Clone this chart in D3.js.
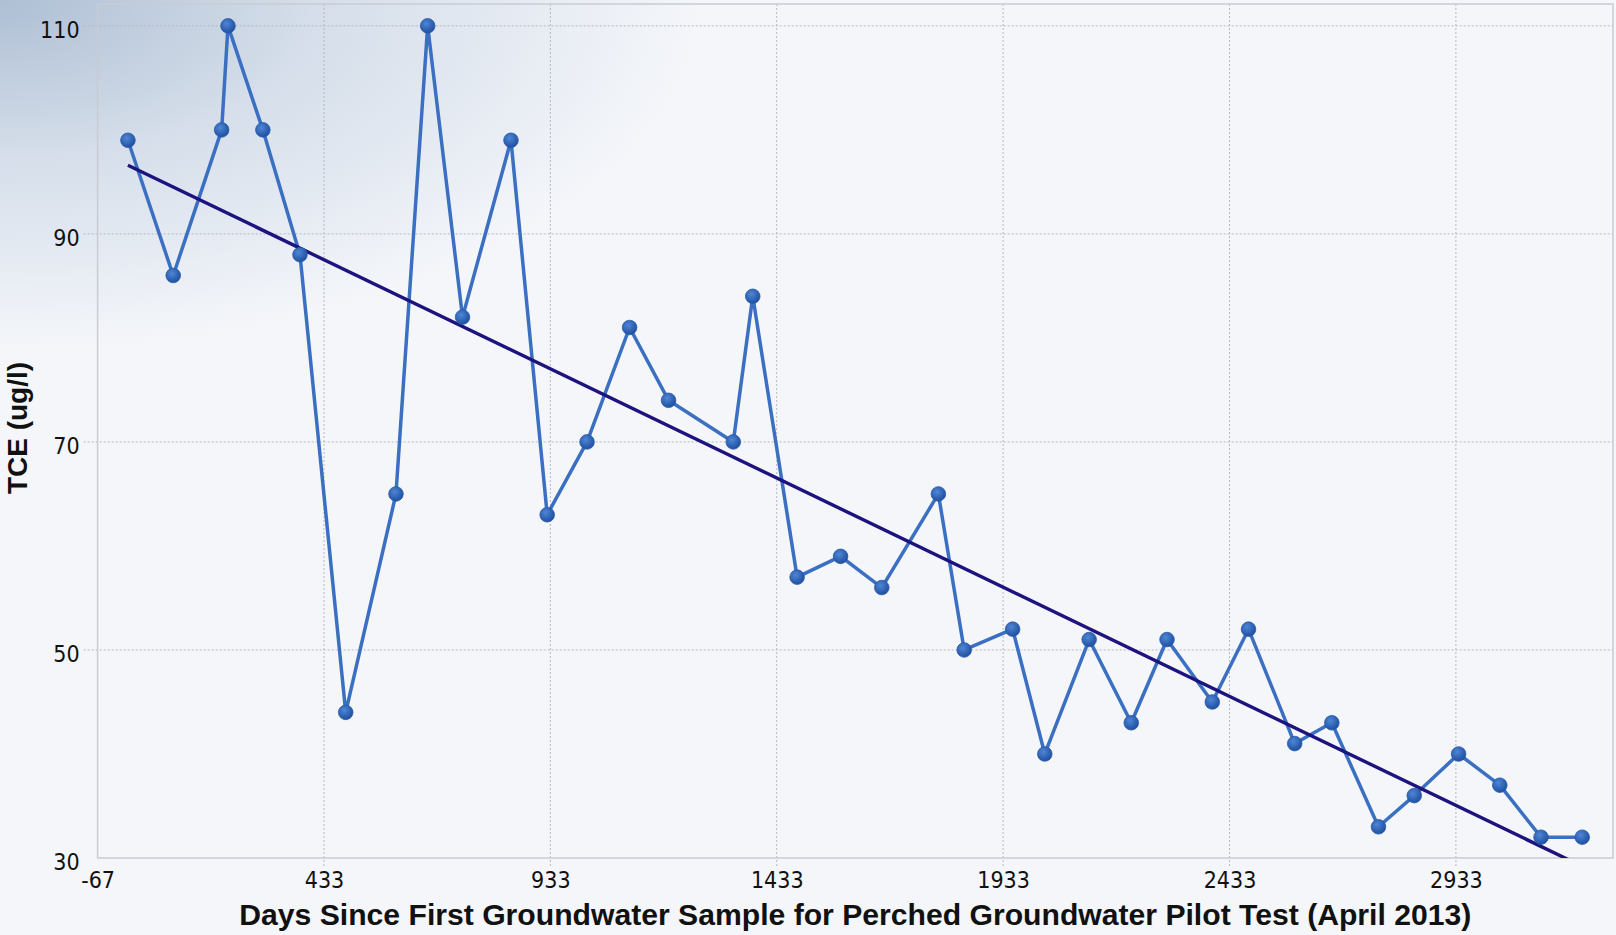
<!DOCTYPE html>
<html><head><meta charset="utf-8">
<script src="https://cdn.jsdelivr.net/npm/d3@7/dist/d3.min.js"></script>
<style>
html,body{margin:0;padding:0;background:#f4f6fa;}
svg{display:block;}
</style></head>
<body>
<svg id="chart" width="1616" height="935"></svg>
<script>
// Data (days since first sample, TCE ug/l)
const days = [0, 100, 207, 221, 298, 380, 481, 592, 662, 739, 846, 926, 1014, 1108, 1194, 1337, 1380, 1478, 1574, 1665, 1790, 1847, 1954, 2025, 2123, 2216, 2295, 2395, 2475, 2577, 2659, 2762, 2841, 2939, 3030, 3121, 3212];
const tce  = [99, 86, 100, 110, 100, 88, 44, 65, 110, 82, 99, 63, 70, 81, 74, 70, 84, 57, 59, 56, 65, 50, 52, 40, 51, 43, 51, 45, 52, 41, 43, 33, 36, 40, 37, 32, 32];
// Linear trend line end points
const trendDays = [0, 3212];
const trendVals = [96.6, 29.2];
const xTicks = [-67, 433, 933, 1433, 1933, 2433, 2933];
const yTicks = [30, 50, 70, 90, 110];
const xTitle = "Days Since First Groundwater Sample for Perched Groundwater Pilot Test (April 2013)";
const yTitle = "TCE (ug/l)";

const svg = d3.select("#chart");
const W = 1616, H = 935;
const m = {left: 97.6, right: 1613, top: 4, bottom: 858};

const x = d3.scaleLinear().domain([-67, 3280]).range([m.left, m.right]);
const y = d3.scaleLinear().domain([30, 112.1]).range([m.bottom, m.top]);

const defs = svg.append("defs");
const bg = defs.append("radialGradient").attr("id","bgGrad")
  .attr("gradientUnits","userSpaceOnUse").attr("cx",0).attr("cy",0).attr("r",700)
  .attr("gradientTransform","scale(1,0.5)");
bg.append("stop").attr("offset","0%").attr("stop-color","#aebfd4");
bg.append("stop").attr("offset","45%").attr("stop-color","#d5deea");
bg.append("stop").attr("offset","100%").attr("stop-color","#f4f6fa");

const mk = defs.append("radialGradient").attr("id","mkGrad")
  .attr("cx","40%").attr("cy","35%").attr("r","65%");
mk.append("stop").attr("offset","0%").attr("stop-color","#4f86d6");
mk.append("stop").attr("offset","100%").attr("stop-color","#1f4fa0");

defs.append("clipPath").attr("id","plotClip").append("rect")
  .attr("x", m.left).attr("y", m.top).attr("width", m.right - m.left).attr("height", m.bottom - m.top);

svg.append("rect").attr("width",W).attr("height",H).attr("fill","#f4f6fa");
svg.append("rect").attr("width",W).attr("height",H).attr("fill","url(#bgGrad)");

// Grid
const grid = svg.append("g");
grid.selectAll("line.gx").data(xTicks.slice(1)).join("line")
  .attr("x1", d => x(d)).attr("x2", d => x(d))
  .attr("y1", m.top).attr("y2", m.bottom + 8)
  .attr("stroke","#b4b8c0").attr("stroke-width",1).attr("stroke-dasharray","2,2");
grid.selectAll("line.gy").data(yTicks.slice(1)).join("line")
  .attr("x1", m.left - 14).attr("x2", m.right)
  .attr("y1", d => y(d)).attr("y2", d => y(d))
  .attr("stroke","#b4b8c0").attr("stroke-width",1).attr("stroke-dasharray","2,2");

// Frame
svg.append("rect").attr("x", m.left).attr("y", m.top)
  .attr("width", m.right - m.left).attr("height", m.bottom - m.top)
  .attr("fill","none").attr("stroke","#c9ccd3").attr("stroke-width",1.5);

// Axes text via d3 axes
const fontTick = "'Liberation Sans Narrow','DejaVu Sans Condensed',sans-serif";
const xAxis = svg.append("g").attr("transform", `translate(0,${m.bottom})`)
  .call(d3.axisBottom(x).tickValues(xTicks).tickSize(0).tickPadding(14).tickFormat(d => String(d)));
const yAxis = svg.append("g").attr("transform", `translate(${m.left},0)`)
  .call(d3.axisLeft(y).tickValues(yTicks).tickSize(0).tickPadding(18).tickFormat(d => String(d)));
[xAxis, yAxis].forEach(a => {
  a.select(".domain").remove();
  a.selectAll("text").attr("font-family", fontTick).attr("font-size", 23).attr("fill","#111");
});
yAxis.selectAll("text").attr("dy","0.5em");

// Data line
const plot = svg.append("g").attr("clip-path","url(#plotClip)");
const pts = days.map((d,i) => ({d, v: tce[i]}));
plot.append("path").datum(pts)
  .attr("fill","none").attr("stroke","#3a6fc1").attr("stroke-width",3.5)
  .attr("stroke-linejoin","round")
  .attr("d", d3.line().x(p => x(p.d)).y(p => y(p.v)));

// Trend line
const tpts = trendDays.map((d,i) => ({d, v: trendVals[i]}));
plot.append("path").datum(tpts)
  .attr("fill","none").attr("stroke","#1c137e").attr("stroke-width",3.4)
  .attr("d", d3.line().x(p => x(p.d)).y(p => y(p.v)));

// Markers
svg.append("g").selectAll("circle").data(pts).join("circle")
  .attr("cx", p => x(p.d)).attr("cy", p => y(p.v)).attr("r", 7.3)
  .attr("fill","url(#mkGrad)").attr("stroke","#2a5aa8").attr("stroke-width",0.8);

// Titles
svg.append("text").attr("x", (m.left + m.right)/2).attr("y", 925)
  .attr("text-anchor","middle")
  .attr("font-family","'Liberation Sans Narrow','Liberation Sans',Arial,sans-serif")
  .attr("font-weight","bold").attr("font-size",30).attr("fill","#111")
  .attr("textLength",1232).attr("lengthAdjust","spacingAndGlyphs")
  .text(xTitle);
svg.append("text").attr("transform","translate(27,428) rotate(-90)")
  .attr("text-anchor","middle")
  .attr("font-family","'Liberation Sans',Arial,sans-serif")
  .attr("font-weight","bold").attr("font-size",28).attr("fill","#111")
  .text(yTitle);
</script>
</body></html>
